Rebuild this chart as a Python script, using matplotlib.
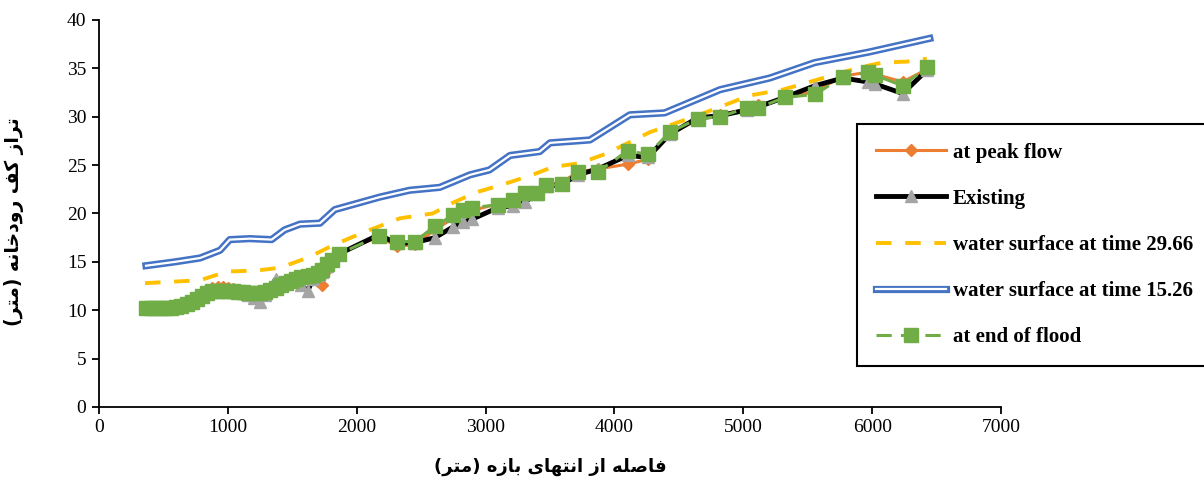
import numpy as np
import matplotlib.pyplot as plt
from matplotlib import patheffects as pe

# ---- data ----
station = [365, 400, 440, 480, 520, 560, 600, 640, 680, 720, 760, 800, 840, 880,
           920, 960, 1000, 1040, 1080, 1120, 1160, 1200, 1250, 1290, 1330, 1370,
           1410, 1450, 1490, 1530, 1570, 1620, 1660, 1700, 1730, 1770, 1810, 1860,
           2172, 2312, 2452, 2607, 2746, 2824, 2894, 3095, 3212, 3305, 3398, 3468,
           3592, 3716, 3871, 4104, 4259, 4430, 4647, 4818, 5027, 5112, 5322, 5555,
           5772, 5966, 6020, 6237, 6424]

end_of_flood = [10.2, 10.2, 10.2, 10.2, 10.2, 10.2, 10.3, 10.4, 10.6, 10.9, 11.2, 11.5, 11.8, 12.0,
                12.0, 12.0, 12.0, 12.0, 11.9, 11.9, 11.8, 11.8, 11.8, 11.9, 12.1, 12.3,
                12.6, 12.8, 13.0, 13.2, 13.4, 13.5, 13.6, 13.8, 14.2, 14.8, 15.2, 15.8,
                17.7, 17.1, 17.1, 18.7, 19.8, 20.4, 20.6, 20.9, 21.4, 22.1, 22.1, 22.9,
                23.0, 24.3, 24.3, 26.5, 26.1, 28.4, 29.8, 30.0, 30.9, 30.9, 32.0, 32.3,
                34.1, 34.6, 34.3, 33.2, 35.1]

existing = [10.2, 10.2, 10.2, 10.2, 10.2, 10.2, 10.3, 10.4, 10.6, 10.9, 11.2, 11.5, 11.8, 12.0,
            12.0, 12.0, 12.0, 12.0, 11.9, 11.8, 11.6, 11.3, 10.8, 11.6, 12.3, 13.2,
            12.8, 12.8, 13.0, 13.0, 12.6, 12.0, 13.2, 13.6, 14.0, 14.6, 15.2, 15.8,
            17.8, 16.9, 17.0, 17.5, 18.6, 19.1, 19.4, 20.6, 20.8, 21.2, 22.0, 22.8,
            23.0, 24.0, 24.6, 26.0, 25.8, 28.2, 29.9, 30.1, 30.7, 31.0, 32.0, 33.2,
            34.0, 33.6, 33.4, 32.4, 34.8]

peak_flow = [10.1, 10.1, 10.2, 10.2, 10.2, 10.2, 10.3, 10.4, 10.6, 10.9, 11.3, 11.7, 12.1, 12.3,
             12.4, 12.4, 12.3, 12.2, 12.0, 11.9, 11.8, 11.8, 11.9, 12.0, 12.2, 12.4,
             12.7, 12.9, 13.1, 13.3, 13.5, 13.6, 13.4, 13.0, 12.6, 14.2, 15.3, 15.9,
             17.6, 16.6, 16.8, 18.3, 19.5, 20.0, 20.3, 21.0, 21.3, 22.0, 22.2, 23.0,
             23.2, 24.3, 24.6, 25.1, 25.6, 28.2, 29.7, 30.2, 30.8, 31.2, 31.9, 32.6,
             34.2, 34.6, 34.4, 33.6, 34.9]

ws_2966_x = [357, 785, 993, 1225, 1405, 1615, 1815, 2025, 2335, 2590, 2745, 2930, 3135,
             3365, 3520, 3730, 3940, 4275, 4660, 5050, 5306, 5490, 5670, 5905, 6080,
             6270, 6424]
ws_2966_y = [12.8, 13.1, 14.0, 14.1, 14.4, 15.4, 16.7, 17.9, 19.5, 20.0, 21.1, 22.2, 23.0,
             24.0, 24.8, 25.2, 26.2, 28.4, 30.2, 32.2, 32.8, 33.5, 34.2, 35.1, 35.6,
             35.7, 36.0]

ws_1526_x = [365, 590, 785, 940, 1015, 1170, 1340, 1440, 1560, 1715, 1830, 2180, 2410,
             2645, 2880, 3030, 3190, 3420, 3500, 3810, 4120, 4390, 4820, 5205, 5555,
             5980, 6447]
ws_1526_y = [14.6, 15.0, 15.4, 16.2, 17.3, 17.4, 17.3, 18.3, 18.9, 19.0, 20.4, 21.7, 22.4,
             22.7, 24.0, 24.5, 26.0, 26.4, 27.3, 27.6, 30.2, 30.4, 32.8, 34.0, 35.6,
             36.7, 38.1]

labels = ['at peak flow', 'Existing', 'water surface at time 29.66',
          'water surface at time 15.26', 'at end of flood']

x_label = 'فاصله از انتهای بازه (متر)'
y_label = 'تراز کف رودخانه (متر)'

# ---- tiny Persian shaper (matplotlib does no Arabic shaping) ----
FORMS = {  # isolated, final, initial, medial
    'ا': ('\uFE8D', '\uFE8E', None, None),
    'ب': ('\uFE8F', '\uFE90', '\uFE91', '\uFE92'),
    'ت': ('\uFE95', '\uFE96', '\uFE97', '\uFE98'),
    'خ': ('\uFEA5', '\uFEA6', '\uFEA7', '\uFEA8'),
    'د': ('\uFEA9', '\uFEAA', None, None),
    'ر': ('\uFEAD', '\uFEAE', None, None),
    'ز': ('\uFEAF', '\uFEB0', None, None),
    'ص': ('\uFEB9', '\uFEBA', '\uFEBB', '\uFEBC'),
    'ف': ('\uFED1', '\uFED2', '\uFED3', '\uFED4'),
    'ل': ('\uFEDD', '\uFEDE', '\uFEDF', '\uFEE0'),
    'م': ('\uFEE1', '\uFEE2', '\uFEE3', '\uFEE4'),
    'ن': ('\uFEE5', '\uFEE6', '\uFEE7', '\uFEE8'),
    'ه': ('\uFEE9', '\uFEEA', '\uFEEB', '\uFEEC'),
    'و': ('\uFEED', '\uFEEE', None, None),
    'ک': ('\uFB8E', '\uFB8F', '\uFB90', '\uFB91'),
    'ی': ('\uFBFC', '\uFBFD', '\uFBFE', '\uFBFF'),
}


def shape_fa(text):
    out = []
    for i, c in enumerate(text):
        if c not in FORMS:
            out.append(c)
            continue
        iso, fin, ini, med = FORMS[c]
        prev = text[i - 1] if i > 0 else ''
        nxt = text[i + 1] if i + 1 < len(text) else ''
        join_prev = prev in FORMS and FORMS[prev][2] is not None
        join_next = nxt in FORMS and ini is not None
        if join_prev and join_next:
            out.append(med)
        elif join_prev:
            out.append(fin)
        elif join_next:
            out.append(ini)
        else:
            out.append(iso)
    vis = ''.join(reversed(out))
    return vis.translate(str.maketrans('()', ')('))


plt.rcParams['font.family'] = ['Liberation Serif', 'DejaVu Serif']

fig = plt.figure(figsize=(12.04, 4.83), dpi=100)
ax = fig.add_axes([0.0822, 0.1574, 0.7492, 0.8012])

ax.plot(station, peak_flow, color='#ED7D31', lw=2.2, marker='D', ms=6.5,
        label=labels[0])
ax.plot(station, existing, color='black', lw=3.5, marker='^', ms=9,
        mfc='#A5A5A5', mec='#A5A5A5', label=labels[1])
ax.plot(ws_2966_x, ws_2966_y, color='#FFC000', lw=2.8, ls=(0, (4, 3.5)),
        label=labels[2])
ax.plot(ws_1526_x, ws_1526_y, color='white', lw=1.6, label=labels[3],
        path_effects=[pe.Stroke(linewidth=5.2, foreground='#4472C4'), pe.Normal()])
ax.plot(station, end_of_flood, color='#70AD47', lw=2.2, ls=(0, (5, 3)),
        marker='s', ms=10, label=labels[4])

ax.set_xlim(0, 7000)
ax.set_ylim(0, 40)
ax.set_xticks(np.arange(0, 7001, 1000))
ax.set_yticks(np.arange(0, 41, 5))
for s in ['top', 'right']:
    ax.spines[s].set_visible(False)
for s in ['left', 'bottom']:
    ax.spines[s].set_linewidth(1.3)
ax.tick_params(direction='out', length=5, width=1.3, labelsize=14, pad=4)

ax.set_xlabel(shape_fa(x_label), family='DejaVu Sans', fontweight='bold',
              fontsize=13, labelpad=15)
ax.set_ylabel(shape_fa(y_label), family='DejaVu Sans', fontweight='bold',
              fontsize=13.5)
ax.yaxis.set_label_coords(-0.083, 0.48)

leg = fig.legend(loc='upper left', bbox_to_anchor=(857 / 1204, 1 - 124 / 483),
                 prop={'weight': 'bold', 'size': 15}, handlelength=3.35,
                 handletextpad=0.35, labelspacing=1.25, borderpad=0.9,
                 borderaxespad=0, fancybox=False, edgecolor='black', framealpha=1)
leg.get_frame().set_linewidth(1.5)

fig.savefig('out.png', dpi=100)
